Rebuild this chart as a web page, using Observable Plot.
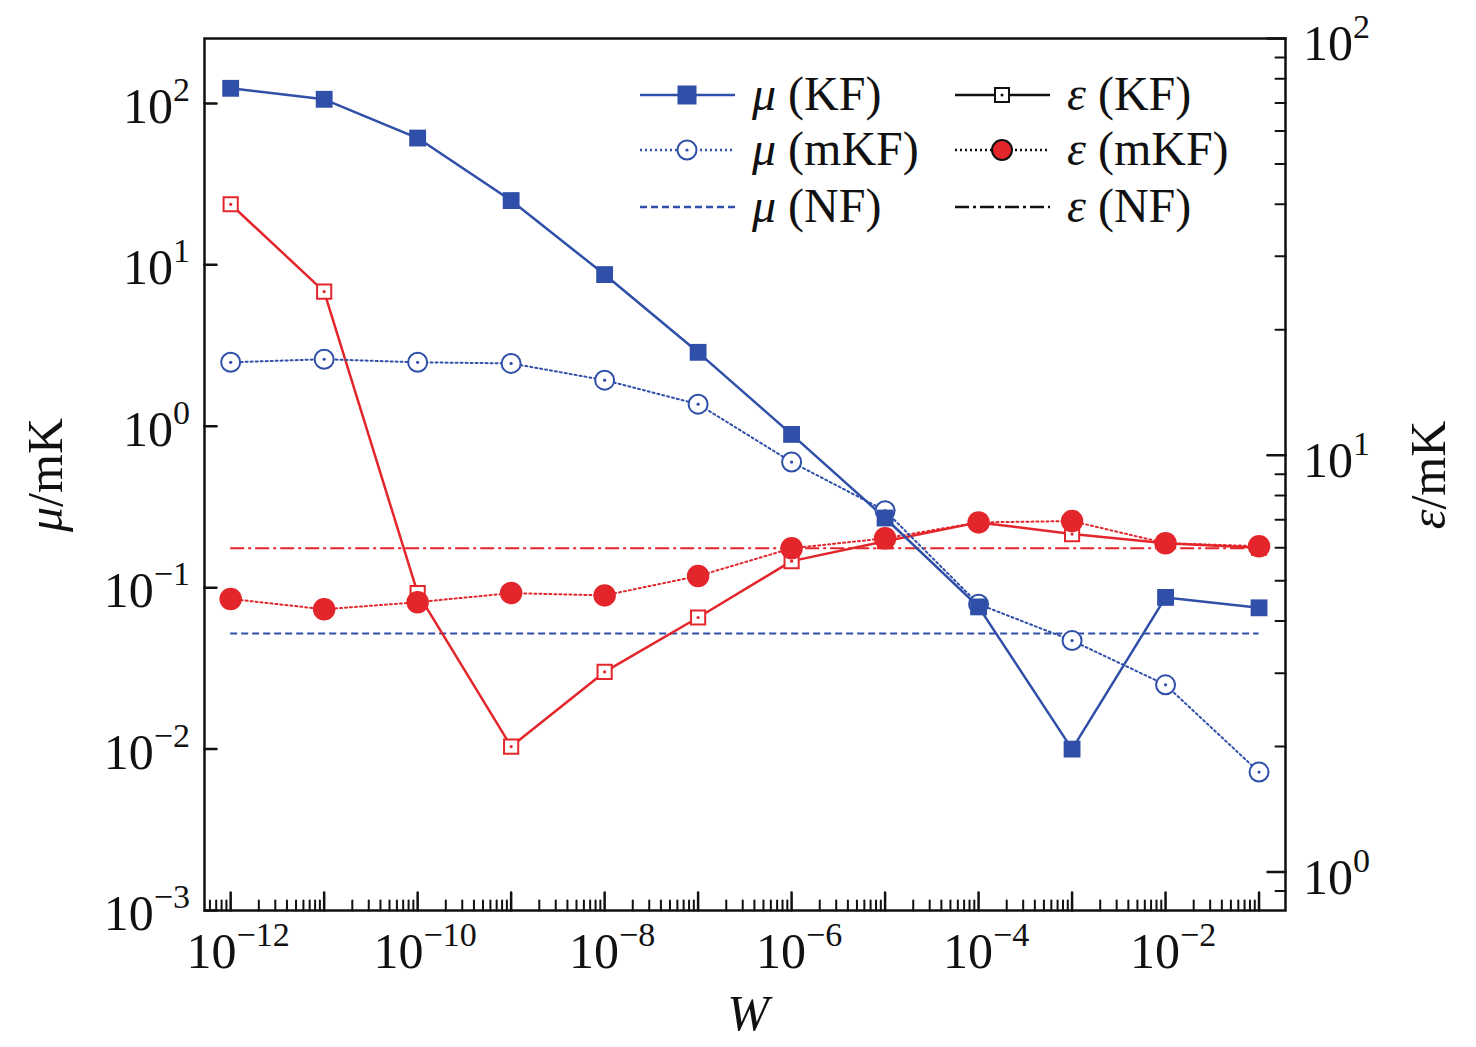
<!DOCTYPE html>
<html><head><meta charset="utf-8">
<script src="https://cdn.jsdelivr.net/npm/d3@7"></script>
<script src="https://cdn.jsdelivr.net/npm/@observablehq/plot@0.6"></script>
<style>body{margin:0;background:#fff}</style>
</head><body><div id="chart"></div>
<script>
const W = [1e-12,1e-11,1e-10,1e-9,1e-8,1e-7,1e-6,1e-5,1e-4,1e-3,1e-2,1e-1];
const muKF  = [124,106,61,25,8.7,2.87,0.89,0.27,0.076,0.010,0.087,0.075];
const muMKF = [2.49,2.6,2.49,2.45,1.93,1.37,0.60,0.30,0.079,0.047,0.025,0.0072];
const muNF  = 0.052;
const epsKF  = [40,24.7,4.67,2.0,3.02,4.08,5.57,6.22,6.9,6.47,6.15,6.0];
const epsMKF = [4.52,4.27,4.44,4.67,4.61,5.13,5.98,6.32,6.9,6.95,6.15,6.05];
const epsNF  = 5.98;
const xMajor = d3.range(-12,0).map(e=>10**e);
const yMajor = [1e-3,1e-2,1e-1,1,10,100];
const eMajor = [1,10,100];

const BLUE="#2f4fa8", RED="#e3262b";
const epsToMu = e => 10**(2 - ((38 + (2-Math.log10(e))*417) - 103)/161.5);
const xDom=[10**-12.28, 10**-0.717], yDom=[1e-3, 10**2.402];

const xMinor=[]; for(let d=-13; d<=-1; d++) for(let k=2;k<=9;k++){const v=k*10**d; if(v>xDom[0]&&v<xDom[1]) xMinor.push(v);}
const eMinor=[]; for(let d=-1; d<=1; d++) for(let k=2;k<=9;k++){const v=k*10**d; if(epsToMu(v)>yDom[0]&&epsToMu(v)<yDom[1]) eMinor.push(v);}

const tickShape={draw(ctx,l){ctx.moveTo(0,0);ctx.lineTo(0,-l);}};
const rows = W.map((w,i)=>({w,muKF:muKF[i],muMKF:muMKF[i],eKF:epsToMu(epsKF[i]),eMKF:epsToMu(epsMKF[i])}));

const plot = Plot.plot({
  width:1476, height:1047, marginLeft:204, marginRight:191, marginTop:38, marginBottom:137,
  x:{type:"log", domain:xDom, axis:null},
  y:{type:"log", domain:yDom, axis:null},
  marks:[
    Plot.ruleY([muNF],{x1:W[0],x2:W[11],stroke:BLUE,strokeWidth:2,strokeDasharray:"7,4"}),
    Plot.ruleY([epsToMu(epsNF)],{x1:W[0],x2:W[11],stroke:RED,strokeWidth:2,strokeDasharray:"14,4,3,4"}),
    Plot.line(rows,{x:"w",y:"eKF",stroke:RED,strokeWidth:2.5}),
    Plot.line(rows,{x:"w",y:"eMKF",stroke:RED,strokeWidth:2,strokeDasharray:"2,3"}),
    Plot.line(rows,{x:"w",y:"muMKF",stroke:BLUE,strokeWidth:2,strokeDasharray:"2,3"}),
    Plot.line(rows,{x:"w",y:"muKF",stroke:BLUE,strokeWidth:2.5}),
    Plot.dot(rows,{x:"w",y:"eKF",symbol:"square",r:8,fill:"white",stroke:RED,strokeWidth:2}),
    Plot.dot(rows,{x:"w",y:"eKF",r:1.6,fill:RED}),
    Plot.dot(rows,{x:"w",y:"eMKF",r:10.5,fill:RED,stroke:RED}),
    Plot.dot(rows,{x:"w",y:"muMKF",r:9.5,fill:"white",stroke:BLUE,strokeWidth:2}),
    Plot.dot(rows,{x:"w",y:"muMKF",r:1.6,fill:BLUE}),
    Plot.dot(rows,{x:"w",y:"muKF",symbol:"square",r:9.5,fill:BLUE}),
    Plot.frame({stroke:"#111",strokeWidth:2.5}),
    Plot.vector(xMajor,{x:d=>d,y:yDom[0],length:18,rotate:0,shape:tickShape,anchor:"start",stroke:"#111",strokeWidth:2.5}),
    Plot.vector(xMinor,{x:d=>d,y:yDom[0],length:10,rotate:0,shape:tickShape,anchor:"start",stroke:"#111",strokeWidth:2}),
    Plot.vector(yMajor,{x:xDom[0],y:d=>d,length:12,rotate:90,shape:tickShape,anchor:"start",stroke:"#111",strokeWidth:2.5}),
    Plot.vector(eMajor,{x:xDom[1],y:d=>epsToMu(d),length:18,rotate:-90,shape:tickShape,anchor:"start",stroke:"#111",strokeWidth:2.5}),
    Plot.vector(eMinor,{x:xDom[1],y:d=>epsToMu(d),length:10,rotate:-90,shape:tickShape,anchor:"start",stroke:"#111",strokeWidth:2})
  ]
});
document.getElementById("chart").append(plot);
const svg = d3.select(plot), sx = plot.scale("x"), sy = plot.scale("y");
const F = "'Times New Roman', 'Liberation Serif', serif";
function pow(g, x, y, anchor, exp){
  const t = g.append("text").attr("x",x).attr("y",y).attr("text-anchor",anchor)
    .attr("font-family",F).attr("font-size",50).attr("fill","#111");
  t.append("tspan").text("10");
  t.append("tspan").attr("dy",-22).attr("font-size",34).text(exp);
}
const g = svg.append("g");
xMajor.filter((d,i)=>i%2===0).forEach(d=>pow(g, sx.apply(d)+8, 968, "middle", String(Math.round(Math.log10(d))).replace("-","−")));
yMajor.forEach(d=>pow(g, 190, sy.apply(d)+20, "end", String(Math.round(Math.log10(d))).replace("-","−")));
eMajor.forEach(d=>pow(g, 1303, sy.apply(epsToMu(d))+22, "start", String(Math.round(Math.log10(d)))));
function title(x,y,rot,parts){
  const t=g.append("text").attr("transform",`translate(${x},${y}) rotate(${rot})`).attr("text-anchor","middle")
   .attr("font-family",F).attr("font-size",50).attr("fill","#111");
  parts.forEach(([s,it])=>t.append("tspan").attr("font-style",it?"italic":"normal").text(s));
}
title(62,475,-90,[["μ",1],["/mK",0]]);
title(1445,475,-90,[["ε",1],["/mK",0]]);
title(748,1030,0,[["W",1]]);
const L = svg.append("g").attr("font-family",F).attr("font-size",48).attr("fill","#111").attr("text-anchor","start");
const leg = [
  [640,95,BLUE,null,"sqfill","μ"," (KF)"],
  [640,150,BLUE,"2,3","circ","μ"," (mKF)"],
  [640,207,BLUE,"7,4",null,"μ"," (NF)"],
  [955,95,"#111",null,"sqopen","ε"," (KF)"],
  [955,150,"#111","2,3","dotred","ε"," (mKF)"],
  [955,207,"#111","14,4,3,4",null,"ε"," (NF)"]
];
leg.forEach(([x,y,c,dash,m,s1,s2])=>{
  L.append("line").attr("x1",x).attr("x2",x+95).attr("y1",y).attr("y2",y).attr("stroke",c).attr("stroke-width",2.5).attr("stroke-dasharray",dash);
  const cx=x+47;
  if(m==="sqfill") L.append("rect").attr("x",cx-9.5).attr("y",y-9.5).attr("width",19).attr("height",19).attr("fill",BLUE);
  if(m==="sqopen"){L.append("rect").attr("x",cx-7).attr("y",y-7).attr("width",14).attr("height",14).attr("fill","white").attr("stroke","#111").attr("stroke-width",2);L.append("circle").attr("cx",cx).attr("cy",y).attr("r",1.5).attr("fill","#111");}
  if(m==="circ"){L.append("circle").attr("cx",cx).attr("cy",y).attr("r",9.5).attr("fill","white").attr("stroke",BLUE).attr("stroke-width",2);L.append("circle").attr("cx",cx).attr("cy",y).attr("r",1.6).attr("fill",BLUE);}
  if(m==="dotred") L.append("circle").attr("cx",cx).attr("cy",y).attr("r",10).attr("fill",RED).attr("stroke","#111").attr("stroke-width",2);
  const t=L.append("text").attr("x",x+112).attr("y",y+15).attr("text-anchor","start");
  t.append("tspan").attr("font-style","italic").text(s1);
  t.append("tspan").text(s2);
});
</script></body></html>
